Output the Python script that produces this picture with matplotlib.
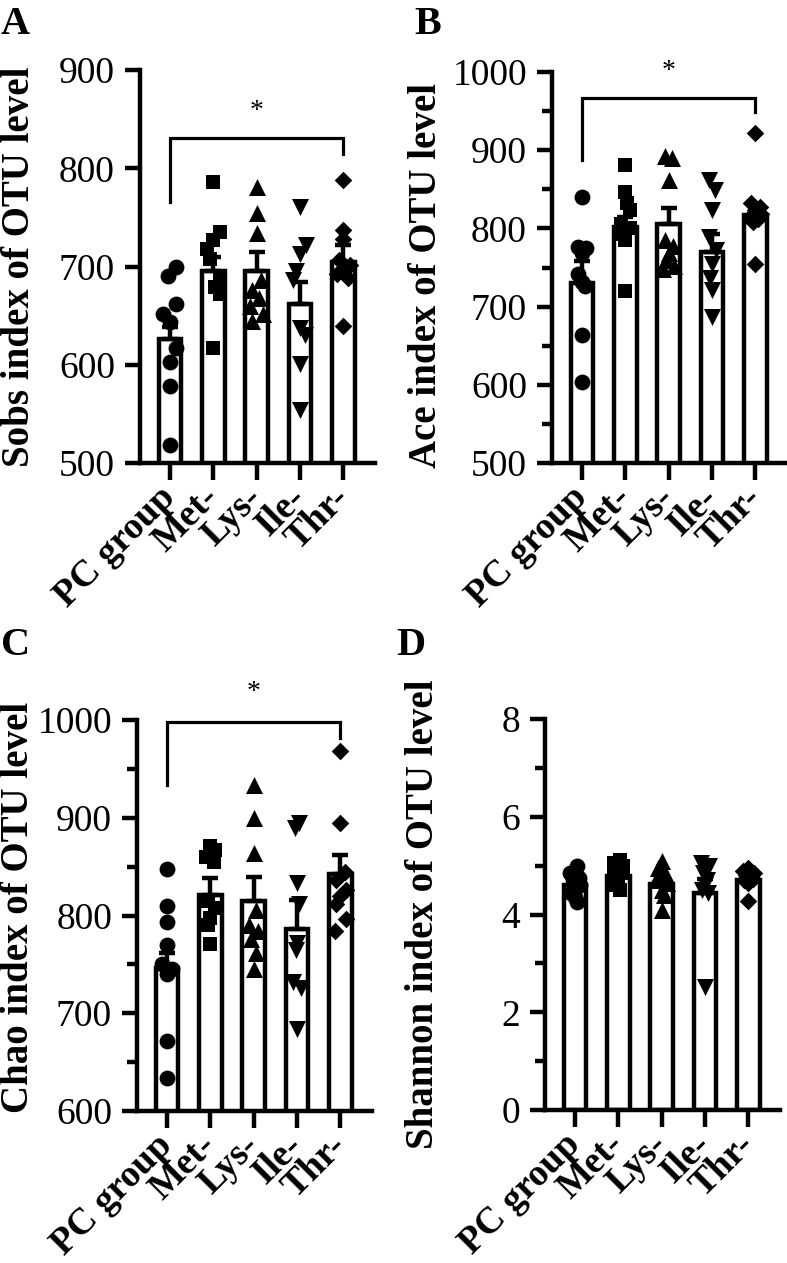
import matplotlib

matplotlib.use("Agg")
import matplotlib.pyplot as plt
import numpy as np

plt.rcParams["font.family"] = ["Liberation Serif", "DejaVu Serif"]

GROUPS = ["PC group", "Met-", "Lys-", "Ile-", "Thr-"]
MARKERS = ["o", "s", "^", "v", "D"]
MSIZE = [130, 115, 150, 150, 80]

# Sobs index (panel A)
sobs_points = [
    [700, 690, 662, 652, 644, 617, 603, 578, 518],
    [786, 735, 727, 718, 708, 686, 679, 672, 617],
    [781, 754, 734, 686, 676, 668, 660, 652, 645],
    [761, 722, 713, 695, 686, 637, 630, 601, 554],
    [788, 737, 728, 707, 702, 697, 692, 688, 639],
]
sobs_mean = [626, 695, 695, 662, 705]
sobs_sem = [12, 15, 20, 22, 17]

# Ace index (panel B)
ace_points = [
    [840, 776, 775, 768, 742, 731, 726, 664, 604],
    [881, 847, 832, 823, 805, 800, 793, 785, 720],
    [893, 890, 862, 785, 777, 768, 760, 752, 748],
    [862, 849, 823, 789, 772, 755, 736, 721, 687],
    [922, 833, 828, 823, 819, 815, 812, 808, 754],
]
ace_mean = [730, 802, 806, 770, 817]
ace_sem = [28, 12, 20, 23, 14]

# Chao index (panel C)
chao_points = [
    [848, 810, 793, 770, 750, 745, 740, 672, 634],
    [871, 867, 860, 855, 815, 808, 797, 790, 771],
    [934, 900, 864, 806, 790, 784, 776, 762, 745],
    [895, 890, 833, 812, 772, 765, 732, 726, 684],
    [968, 895, 844, 836, 826, 820, 812, 796, 784],
]
chao_mean = [746, 821, 815, 786, 842]
chao_sem = [16, 17, 24, 30, 20]

# Shannon index (panel D)
shannon_points = [
    [5.0, 4.9, 4.85, 4.75, 4.7, 4.6, 4.45, 4.35, 4.25],
    [5.12, 5.05, 5.0, 4.95, 4.9, 4.85, 4.75, 4.6, 4.5],
    [5.1, 4.95, 4.85, 4.8, 4.7, 4.65, 4.5, 4.4, 4.1],
    [5.05, 5.0, 4.95, 4.85, 4.7, 4.6, 4.5, 4.45, 2.52],
    [4.95, 4.9, 4.85, 4.8, 4.75, 4.72, 4.7, 4.65, 4.28],
]
shannon_mean = [4.6, 4.78, 4.62, 4.45, 4.7]
shannon_sem = [0.08, 0.07, 0.1, 0.27, 0.07]

# horizontal scatter offsets (category units)
sobs_jitter = [
    [0.15, -0.04, 0.15, -0.15, 0.0, 0.15, 0.0, 0.0, 0.0],
    [0.0, 0.15, 0.0, -0.15, -0.08, 0.15, 0.05, 0.15, 0.0],
    [0.0, 0.0, 0.0, 0.1, -0.1, 0.05, -0.15, 0.15, -0.1],
    [0.0, 0.15, 0.0, -0.1, -0.15, 0.0, 0.12, 0.0, 0.0],
    [0.0, 0.0, 0.0, -0.1, 0.15, 0.0, -0.15, 0.1, 0.0],
]
ace_jitter = [
    [0.0, -0.1, 0.1, 0.0, -0.1, 0.0, 0.08, 0.0, 0.0],
    [0.0, 0.0, 0.05, 0.1, -0.1, 0.12, -0.05, 0.0, 0.0],
    [-0.08, 0.08, 0.0, -0.08, 0.1, 0.0, -0.05, 0.12, -0.12],
    [-0.08, 0.08, 0.0, -0.08, 0.1, 0.0, -0.05, 0.0, 0.0],
    [0.0, -0.1, 0.1, 0.0, 0.12, -0.12, 0.05, -0.05, 0.0],
]
chao_jitter = [
    [0.0, 0.0, 0.0, 0.0, -0.12, 0.12, 0.0, 0.0, 0.0],
    [0.0, 0.12, -0.1, 0.08, -0.05, 0.1, 0.0, -0.05, 0.0],
    [0.0, 0.0, 0.0, 0.05, -0.1, 0.1, -0.05, 0.05, 0.0],
    [0.05, -0.05, 0.0, 0.05, 0.0, -0.02, -0.1, 0.1, 0.0],
    [0.0, 0.0, 0.1, -0.1, 0.12, 0.0, -0.1, 0.12, -0.12],
]
shannon_jitter = [
    [0.05, 0.0, -0.12, 0.1, -0.05, 0.12, -0.1, 0.0, 0.05],
    [0.05, -0.1, 0.12, 0.0, -0.1, 0.1, 0.0, -0.05, 0.05],
    [0.0, -0.08, 0.08, 0.0, -0.12, 0.12, 0.0, 0.05, 0.0],
    [-0.1, 0.1, 0.0, -0.05, 0.05, 0.0, -0.08, 0.08, 0.0],
    [0.0, -0.12, 0.12, -0.05, 0.05, 0.1, -0.1, 0.0, 0.0],
]

W, H = 787, 1263
LW = 3.2


def panel(fig, rect, points, means, sems, jitter, ylabel, ylim, major, minor,
          letter, letter_xy, bracket=None, label_x=-0.44, label_y=0.5):
    l, t, r, b = rect
    ax = fig.add_axes([l / W, 1 - b / H, (r - l) / W, (b - t) / H])
    x = np.arange(len(GROUPS))
    ax.bar(x, means, width=0.52, color="white", edgecolor="black",
           linewidth=LW, zorder=1)
    ax.errorbar(x, means, yerr=[np.zeros(len(sems)), sems], fmt="none",
                ecolor="black", elinewidth=LW, capsize=6, capthick=LW, zorder=2)
    for i, vals in enumerate(points):
        ax.scatter(i + np.array(jitter[i]), vals, marker=MARKERS[i],
                   s=MSIZE[i], color="black", linewidths=0, zorder=3,
                   clip_on=False)

    ax.set_xlim(-0.69, 4.73)
    ax.set_ylim(*ylim)
    ax.set_yticks(np.arange(ylim[0], ylim[1] + major / 2, major))
    if minor:
        ax.set_yticks(np.arange(ylim[0], ylim[1] + minor / 2, minor), minor=True)
    ax.set_xticks(x)
    ax.set_xticklabels(GROUPS, rotation=45, ha="right", va="center",
                       rotation_mode="anchor", fontsize=27, fontweight="bold")
    ax.tick_params(axis="y", labelsize=27, length=11, width=LW, pad=7)
    ax.tick_params(axis="y", which="minor", length=7, width=LW)
    ax.tick_params(axis="x", length=12, width=LW, pad=9)
    for s in ["top", "right"]:
        ax.spines[s].set_visible(False)
    for s in ["left", "bottom"]:
        ax.spines[s].set_linewidth(LW)
    ax.set_ylabel(ylabel, fontsize=28, fontweight="bold")
    ax.yaxis.set_label_coords(label_x, label_y)

    if bracket:
        yl, yh, yr, ystar = bracket
        ax.plot([0, 0, 4, 4], [yl, yh, yh, yr], color="black", lw=2.3,
                clip_on=False, solid_joinstyle="miter")
        ax.text(2, ystar, "*", ha="center", va="center", fontsize=20,
                clip_on=False)

    fig.text(letter_xy[0] / W, 1 - letter_xy[1] / H, letter, fontsize=29,
             fontweight="bold", ha="left", va="top")
    return ax


fig = plt.figure(figsize=(W / 100, H / 100), dpi=100)

panel(fig, (140, 70, 375, 463), sobs_points, sobs_mean, sobs_sem, sobs_jitter,
      "Sobs index of OTU level", (500, 900), 100, None,
      "A", (1, 6), bracket=(766, 831, 815, 858), label_x=-0.435)
panel(fig, (552, 72, 787, 463), ace_points, ace_mean, ace_sem, ace_jitter,
      "Ace index of OTU level", (500, 1000), 100, 50,
      "B", (414, 6), bracket=(887, 967, 949, 1000), label_x=-0.455, label_y=0.48)
panel(fig, (137, 720, 372, 1111), chao_points, chao_mean, chao_sem, chao_jitter,
      "Chao index of OTU level", (600, 1000), 100, 50,
      "C", (1, 627), bracket=(934, 998, 982, 1028), label_x=-0.425, label_y=0.52)
panel(fig, (545, 719, 780, 1110), shannon_points, shannon_mean, shannon_sem,
      shannon_jitter, "Shannon index of OTU level", (0, 8), 2, 1,
      "D", (396, 627), label_x=-0.44)

fig.savefig("out.png", dpi=100)
